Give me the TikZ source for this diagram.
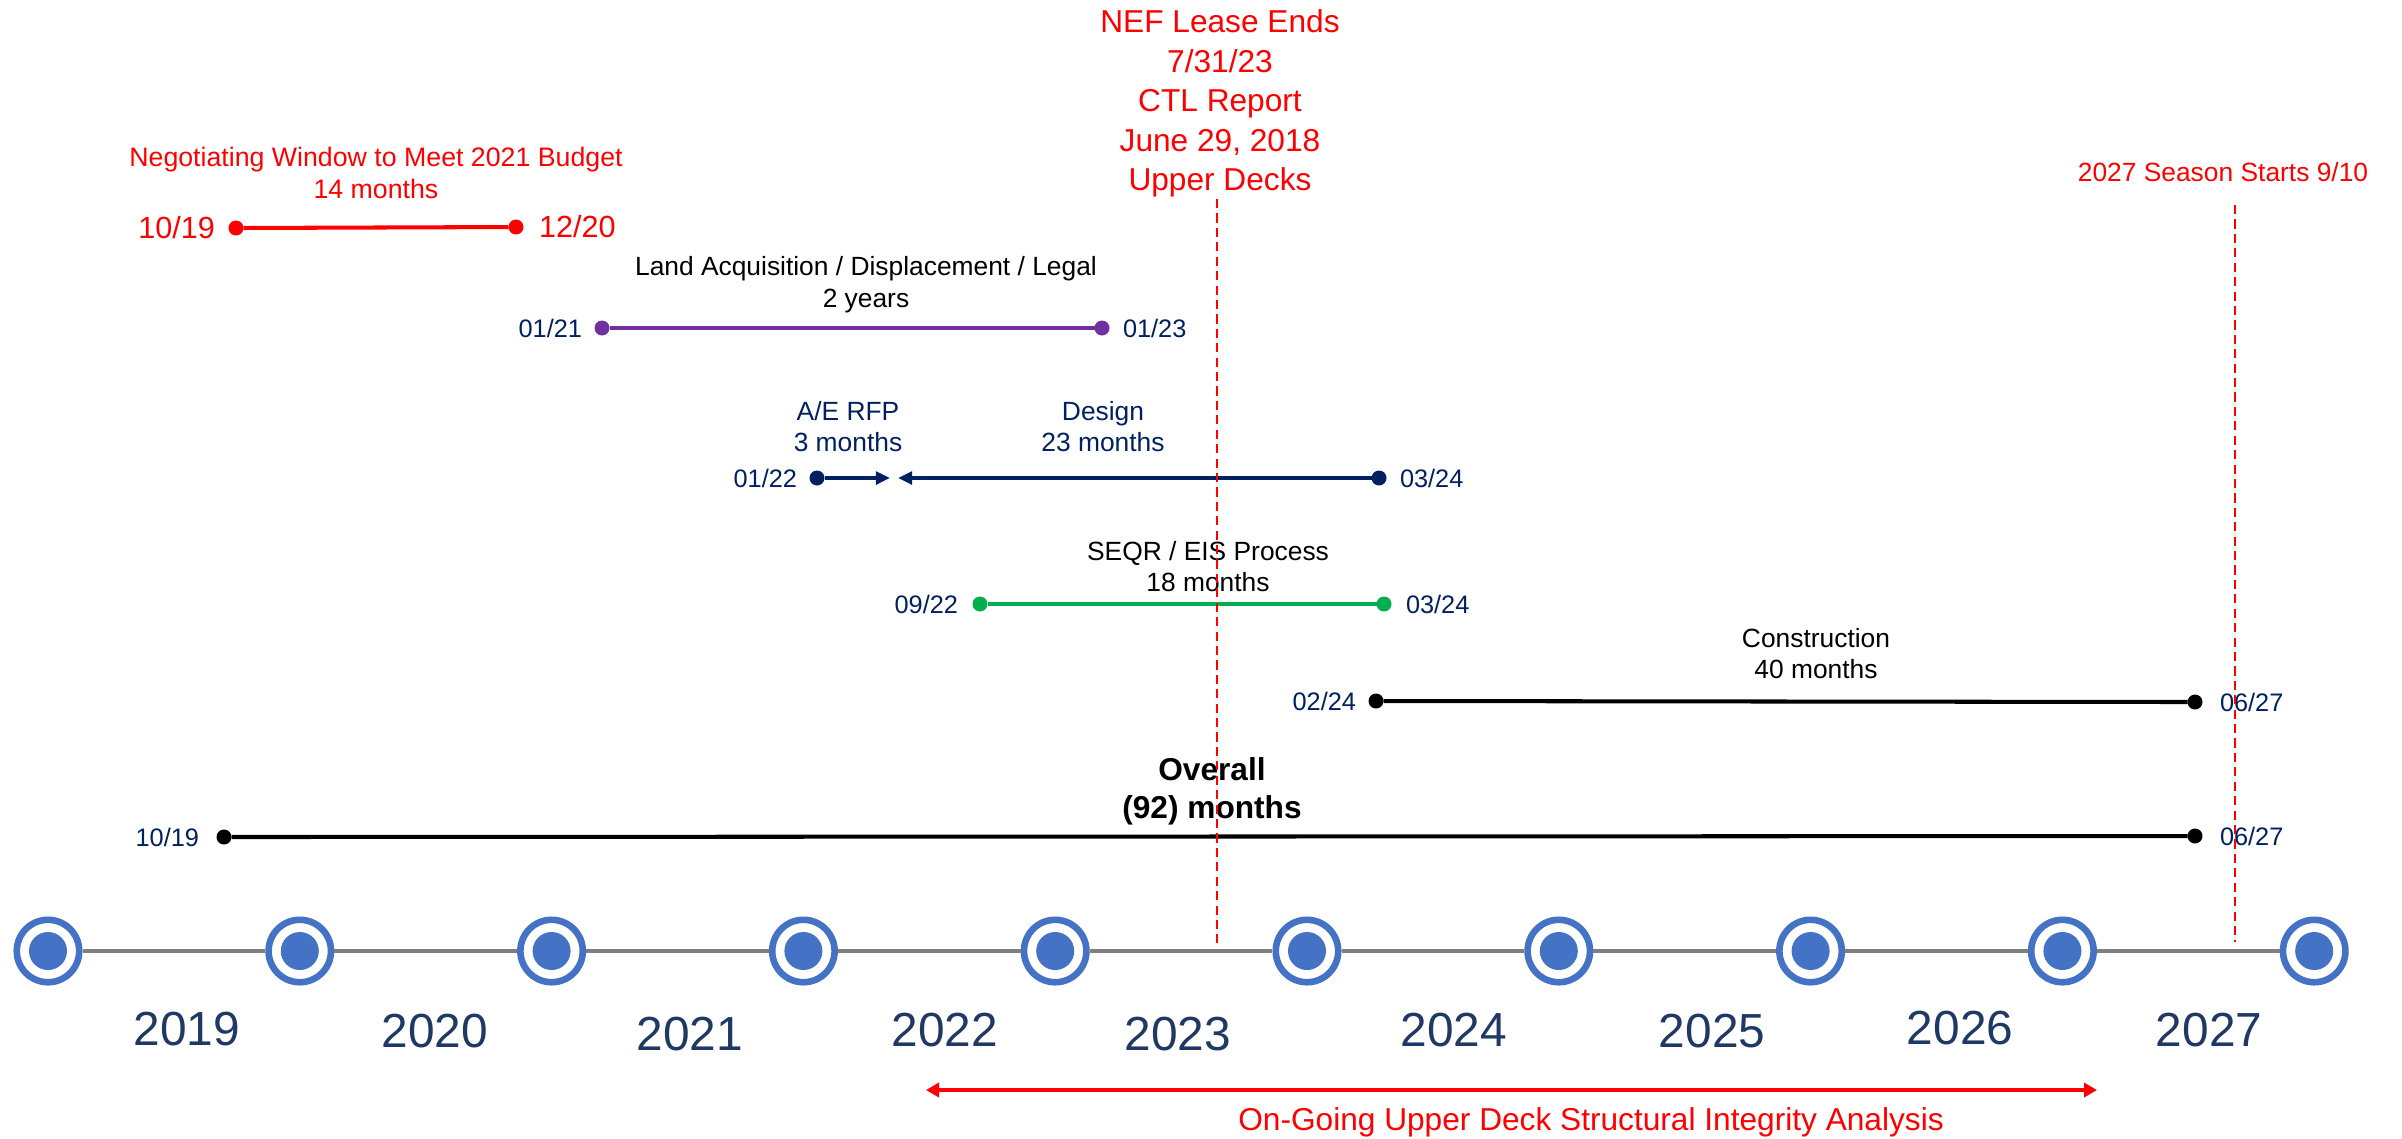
\documentclass[tikz,border=0pt]{standalone}
\usepackage{fontspec}
\setmainfont{Liberation Sans}
\usetikzlibrary{positioning,arrows.meta}
\definecolor{ringblue}{HTML}{4472C4}
\definecolor{yearnavy}{HTML}{1F3864}
\definecolor{datenavy}{HTML}{002060}
\definecolor{landpurple}{HTML}{7030A0}
\definecolor{seqrgreen}{HTML}{00B050}
\definecolor{axisgray}{HTML}{7F7F7F}

\begin{document}
\begin{tikzpicture}[x=0.01cm, y=-0.01cm,
    every node/.style={inner sep=0pt, outer sep=0pt},
    yearring/.style={circle, draw=ringblue, fill=white, line width=1.88pt,
                     minimum size=0.624cm, outer sep=0.94pt},
    yearlabel/.style={text=yearnavy, font=\fontsize{13.6}{16}\selectfont},
    dot/.style={circle, fill=#1, minimum size=0.15cm},
    bar/.style={line width=1.15pt, #1},
    datelabel/.style={text=datenavy, font=\fontsize{7.2}{8.6}\selectfont},
    bigdate/.style={text=red, font=\fontsize{8.7}{10.4}\selectfont},
    bartitle/.style={align=center, anchor=south, font=\fontsize{7.5}{9}\selectfont},
    eventline/.style={red, line width=0.5pt, dash pattern=on 2.6pt off 1.5pt},
    tip/.style={-{Triangle[length=4pt,width=3.6pt]}}
]
\useasboundingbox (0,0) rectangle (2402,1138);

% year axis
\foreach \i in {0,...,9} {
  \node[yearring] (t\i) at (48+251.8*\i, 951) {};
  \fill[ringblue] (t\i.center) circle (0.19cm);
}
\foreach \i [evaluate=\i as \j using int(\i+1)] in {0,...,8}
  \draw[axisgray, line width=0.9pt] (t\i) -- (t\j);
\foreach \yr/\x/\y in {2019/187/1029, 2020/435/1031, 2021/690/1034,
                       2022/945/1030, 2023/1178/1034, 2024/1454/1030,
                       2025/1712/1031, 2026/1960/1028, 2027/2209/1030}
  \node[yearlabel] (y\yr) at (\x,\y) {\yr};

% negotiating window
\node[dot=red] (neg1) at (236,228) {};
\node[dot=red] (neg2) at (516,227) {};
\draw[bar=red] (neg1) -- (neg2);
\node[bigdate, left=0.135cm of neg1] (neg1d) {10/19};
\node[bigdate, right=0.155cm of neg2] (neg2d) {12/20};
\node[bartitle, text=red, font=\fontsize{7.6}{9.1}\selectfont] (negT) at (376,199)
  {Negotiating Window to Meet 2021 Budget\\14 months};

% land
\node[dot=landpurple] (land1) at (602,328) {};
\node[dot=landpurple] (land2) at (1102,328) {};
\draw[bar=landpurple] (land1) -- (land2);
\node[datelabel, left=0.125cm of land1] (land1d) {01/21};
\node[datelabel, right=0.135cm of land2] (land2d) {01/23};
\node[bartitle] (landT) at (866,313) {Land Acquisition / Displacement / Legal\\2 years};

% A/E RFP and design
\node[dot=datenavy] (ae1) at (817,478) {};
\coordinate (aeTip) at (890,478);
\coordinate (dsTip) at (898,478);
\node[dot=datenavy] (ds2) at (1379,478) {};
\draw[bar=datenavy, tip] (ae1) -- (aeTip);
\draw[bar=datenavy, tip] (ds2) -- (dsTip);
\node[datelabel, left=0.125cm of ae1] (ae1d) {01/22};
\node[datelabel, right=0.135cm of ds2] (ds2d) {03/24};
\node[bartitle, text=datenavy] (aeT) at (848,452) {A/E RFP\\3 months};
\node[bartitle, text=datenavy] (dsT) at (1103,452) {Design\\23 months};

% SEQR
\node[dot=seqrgreen] (seqr1) at (980,604) {};
\node[dot=seqrgreen] (seqr2) at (1384,604) {};
\draw[bar=seqrgreen] (seqr1) -- (seqr2);
\node[datelabel, left=0.145cm of seqr1] (seqr1d) {09/22};
\node[datelabel, right=0.145cm of seqr2] (seqr2d) {03/24};
\node[bartitle] (seqrT) at (1208,592) {SEQR / EIS Process\\18 months};

% construction
\node[dot=black] (con1) at (1376,701) {};
\node[dot=black] (con2) at (2195,702) {};
\draw[bar=black] (con1) -- (con2);
\node[datelabel, left=0.125cm of con1] (con1d) {02/24};
\node[datelabel, right=0.175cm of con2] (con2d) {06/27};
\node[bartitle] (conT) at (1816,679) {Construction\\40 months};

% overall
\node[dot=black] (all1) at (224,837) {};
\node[dot=black] (all2) at (2195,836) {};
\draw[bar=black] (all1) -- (all2);
\node[datelabel, left=0.175cm of all1] (all1d) {10/19};
\node[datelabel, right=0.175cm of all2] (all2d) {06/27};
\node[bartitle, font=\fontsize{9}{10.8}\selectfont\bfseries] (allT) at (1212,825)
  {Overall\\(92) months};

% red markers
\node[bartitle, text=red, font=\fontsize{9}{11.2}\selectfont] (nef) at (1220,197)
  {NEF Lease Ends\\7/31/23\\CTL Report\\June 29, 2018\\Upper Decks};
\coordinate (nefTop) at (1217,199);
\coordinate (nefBot) at (1217,948);
\draw[eventline] (nefTop) -- (nefBot);
\node[bartitle, text=red] (season) at (2223,182) {2027 Season Starts 9/10};
\coordinate (seasonTop) at (2235,205);
\coordinate (seasonBot) at (2235,942);
\draw[eventline] (seasonTop) -- (seasonBot);

% structural analysis
\coordinate (og1) at (926,1090);
\coordinate (og2) at (2097,1090);
\draw[red, line width=0.95pt, {Triangle[length=3.7pt,width=4pt]}-{Triangle[length=3.7pt,width=4pt]}] (og1) -- (og2);
\node[bartitle, text=red, font=\fontsize{9}{10.8}\selectfont] (ogT) at (1591,1137)
  {On-Going Upper Deck Structural Integrity Analysis};
\end{tikzpicture}
\end{document}
